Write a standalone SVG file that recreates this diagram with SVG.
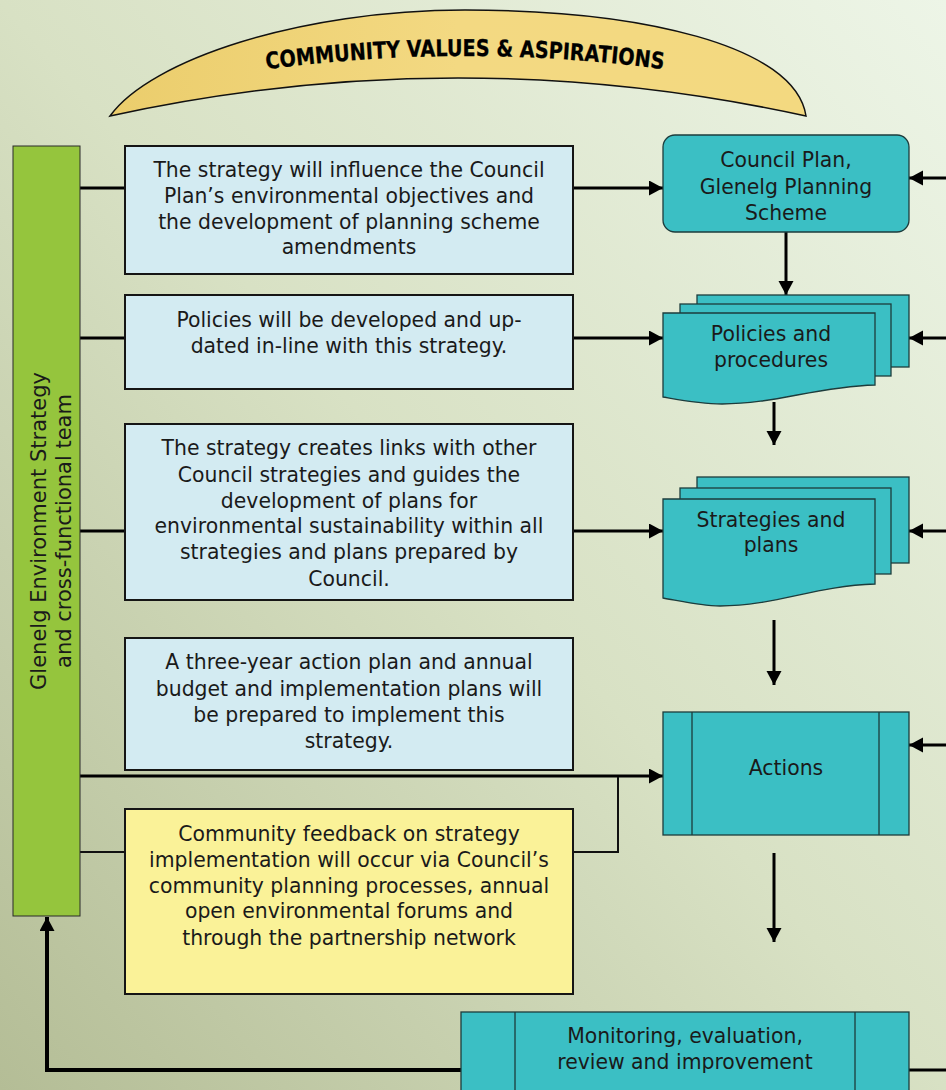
<svg xmlns="http://www.w3.org/2000/svg" width="946" height="1090" viewBox="0 0 946 1090">
<style>
.t{font-family:"DejaVu Sans","Liberation Sans",sans-serif;font-size:20.4px;fill:#1a1a1a;text-anchor:middle}
.blue{fill:#d3ebf2;stroke:#151515;stroke-width:2}
.teal{fill:#3bbfc4;stroke:#1d3c3c;stroke-width:1.3}
.con{fill:none;stroke:#000;stroke-width:3}
.thin{fill:none;stroke:#111;stroke-width:2}
.arr{marker-end:url(#ah)}
</style>
<defs>
<linearGradient id="bg" x1="0" y1="1" x2="1" y2="0">
<stop offset="0" stop-color="#b4bd96"/>
<stop offset="0.5" stop-color="#d8e1c4"/>
<stop offset="1" stop-color="#edf5e7"/>
</linearGradient>
<linearGradient id="gold" x1="0" y1="0" x2="1" y2="0">
<stop offset="0" stop-color="#ebcd6c"/>
<stop offset="0.5" stop-color="#f3d982"/>
<stop offset="1" stop-color="#f3d980"/>
</linearGradient>
<marker id="ah" markerUnits="userSpaceOnUse" markerWidth="16" markerHeight="16" refX="14" refY="7.5" orient="auto">
<path d="M0,0 L14,7.5 L0,15 Z" fill="#000"/>
</marker>
<path id="arcText" d="M240,73 Q465,39 690,73"/>
</defs>
<rect x="0" y="0" width="946" height="1090" fill="url(#bg)"/>

<g id="banner">
<path d="M110,116 C150,60 300,10 465,10 C640,10 795,45 806,116 Q458,40 110,116 Z" fill="url(#gold)" stroke="#111" stroke-width="1.5"/>
<text font-family="'DejaVu Sans','Liberation Sans',sans-serif" font-size="23" font-weight="bold" fill="#000" stroke="#000" stroke-width="0.3"><textPath href="#arcText" startOffset="50%" text-anchor="middle" textLength="398" lengthAdjust="spacingAndGlyphs">COMMUNITY VALUES &amp; ASPIRATIONS</textPath></text>
</g>

<g id="connectors">
<line class="con" x1="80" y1="188" x2="125" y2="188"/>
<line class="con arr" x1="573" y1="188" x2="663" y2="188"/>
<line class="con" x1="80" y1="338" x2="125" y2="338"/>
<line class="con arr" x1="573" y1="338" x2="663" y2="338"/>
<line class="con" x1="80" y1="531" x2="125" y2="531"/>
<line class="con arr" x1="573" y1="531" x2="663" y2="531"/>
<line class="con arr" x1="80" y1="776" x2="663" y2="776"/>
<line class="thin" x1="80" y1="852" x2="125" y2="852"/>
<polyline class="thin" points="573,852 618,852 618,777"/>
<line class="con arr" x1="786" y1="220" x2="786" y2="295"/>
<line class="con arr" x1="774" y1="402" x2="774" y2="445"/>
<line class="con arr" x1="774" y1="620" x2="774" y2="685"/>
<line class="con arr" x1="774" y1="853" x2="774" y2="942"/>
<line class="con arr" x1="946" y1="178" x2="909" y2="178"/>
<line class="con arr" x1="946" y1="338" x2="909" y2="338"/>
<line class="con arr" x1="946" y1="531" x2="909" y2="531"/>
<line class="con arr" x1="946" y1="745" x2="909" y2="745"/>
<line class="con" x1="909" y1="1070" x2="946" y2="1070"/>
<polyline class="con arr" style="stroke-width:4" points="461,1070 47,1070 47,917"/>
</g>

<g id="team">
<rect x="13" y="146" width="67" height="770" fill="#95c53d" stroke="#2a2a2a" stroke-width="1"/>
<g transform="translate(0,531) rotate(-90)">
<text class="t" x="0" y="46" style="font-size:21px">Glenelg Environment Strategy</text>
<text class="t" x="0" y="71" style="font-size:21px">and cross-functional team</text>
</g>
</g>

<g id="box1">
<rect class="blue" x="125" y="146" width="448" height="128"/>
<text class="t" x="349" y="177">The strategy will influence the Council</text>
<text class="t" x="349" y="203">Plan’s environmental objectives and</text>
<text class="t" x="349" y="229">the development of planning scheme</text>
<text class="t" x="349" y="254">amendments</text>
</g>

<g id="box2">
<rect class="blue" x="125" y="295" width="448" height="94"/>
<text class="t" x="349" y="327">Policies will be developed and up-</text>
<text class="t" x="349" y="353">dated in-line with this strategy.</text>
</g>

<g id="box3">
<rect class="blue" x="125" y="424" width="448" height="176"/>
<text class="t" x="349" y="455">The strategy creates links with other</text>
<text class="t" x="349" y="482">Council strategies and guides the</text>
<text class="t" x="349" y="508">development of plans for</text>
<text class="t" x="349" y="533">environmental sustainability within all</text>
<text class="t" x="349" y="559">strategies and plans prepared by</text>
<text class="t" x="349" y="586">Council.</text>
</g>

<g id="box4">
<rect class="blue" x="125" y="638" width="448" height="132"/>
<text class="t" x="349" y="669">A three-year action plan and annual</text>
<text class="t" x="349" y="696">budget and implementation plans will</text>
<text class="t" x="349" y="722">be prepared to implement this</text>
<text class="t" x="349" y="748">strategy.</text>
</g>

<g id="feedback">
<rect x="125" y="809" width="448" height="185" fill="#faf298" stroke="#151515" stroke-width="2"/>
<text class="t" x="349" y="841">Community feedback on strategy</text>
<text class="t" x="349" y="867">implementation will occur via Council’s</text>
<text class="t" x="349" y="893">community planning processes, annual</text>
<text class="t" x="349" y="918">open environmental forums and</text>
<text class="t" x="349" y="945">through the partnership network</text>
</g>

<g id="councilPlan">
<rect class="teal" x="663" y="135" width="246" height="97" rx="12"/>
<text class="t" x="786" y="167">Council Plan,</text>
<text class="t" x="786" y="194">Glenelg Planning</text>
<text class="t" x="786" y="220">Scheme</text>
</g>

<g id="policies">
<rect class="teal" x="697" y="295" width="212" height="72"/>
<rect class="teal" x="680" y="304" width="211" height="72"/>
<path class="teal" d="M663,313 H875 V385 C815,387 775,404 722,404 C700,404 680,400 663,397 Z"/>
<text class="t" x="771" y="341">Policies and</text>
<text class="t" x="771" y="367">procedures</text>
</g>

<g id="strategies">
<rect class="teal" x="697" y="477" width="212" height="86"/>
<rect class="teal" x="680" y="488" width="211" height="86"/>
<path class="teal" d="M663,499 H875 V584 C815,586 775,606 720,606 C700,606 680,601 663,598 Z"/>
<text class="t" x="771" y="527">Strategies and</text>
<text class="t" x="771" y="552">plans</text>
</g>

<g id="actions">
<rect class="teal" x="663" y="712" width="246" height="123"/>
<line class="teal" x1="692" y1="712" x2="692" y2="835"/>
<line class="teal" x1="879" y1="712" x2="879" y2="835"/>
<text class="t" x="786" y="775">Actions</text>
</g>

<g id="monitoring">
<rect class="teal" x="461" y="1012" width="448" height="90"/>
<line class="teal" x1="515" y1="1012" x2="515" y2="1090"/>
<line class="teal" x1="855" y1="1012" x2="855" y2="1090"/>
<text class="t" x="685" y="1043">Monitoring, evaluation,</text>
<text class="t" x="685" y="1069">review and improvement</text>
</g>
</svg>
